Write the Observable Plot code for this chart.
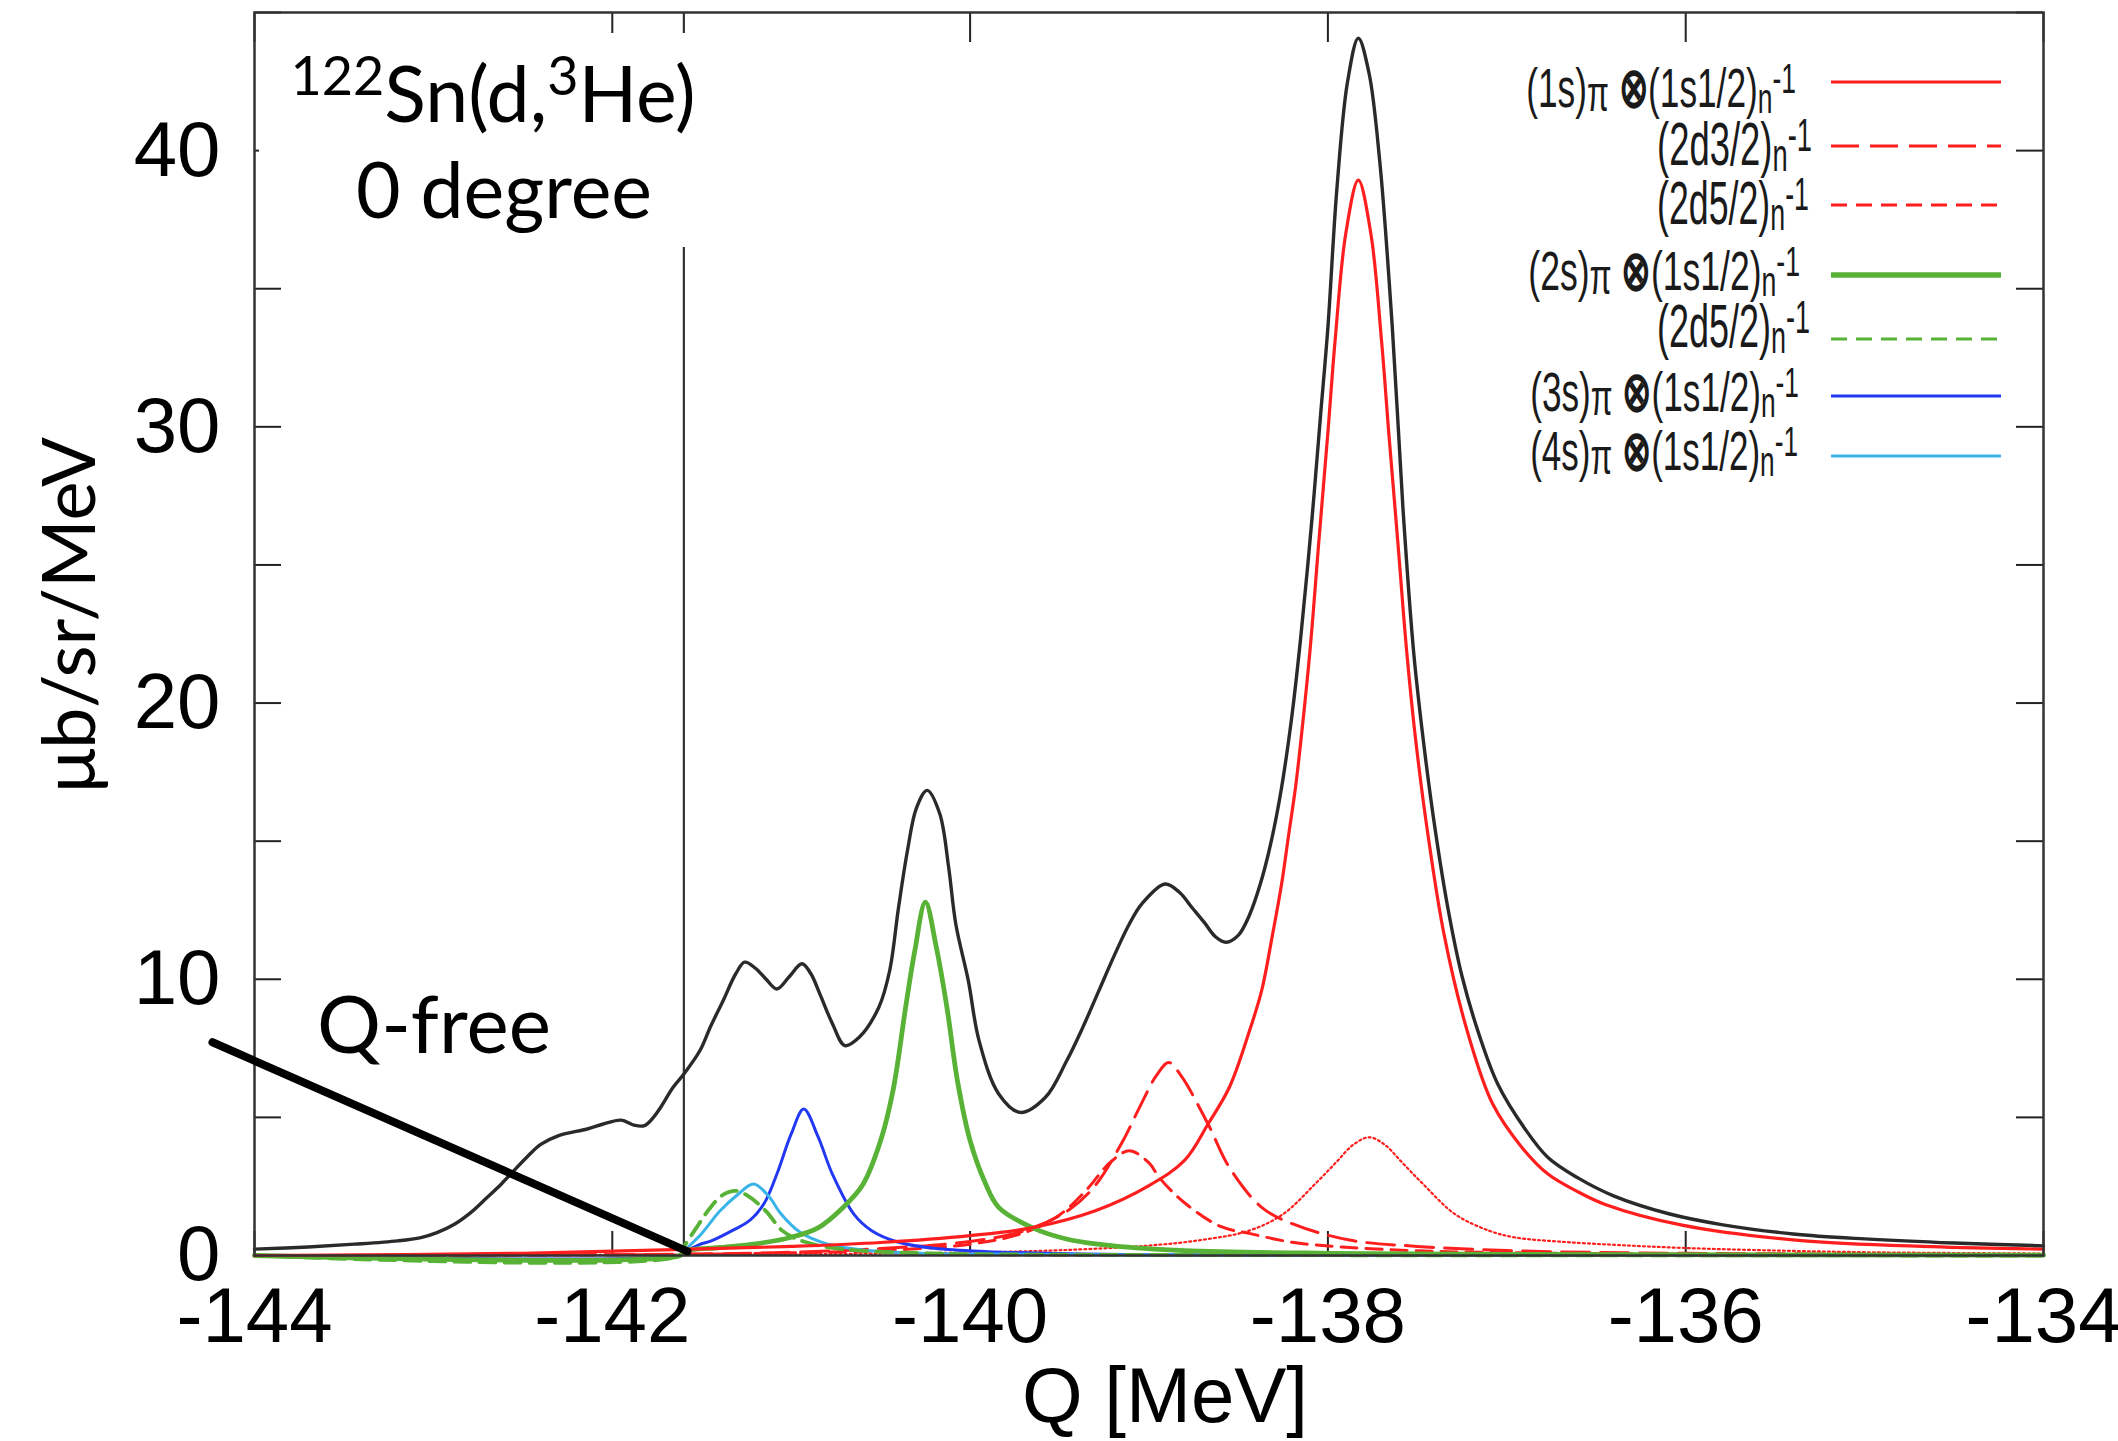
<!DOCTYPE html>
<html><head><meta charset="utf-8">
<script src="https://cdn.jsdelivr.net/npm/d3@7"></script>
<script src="https://cdn.jsdelivr.net/npm/@observablehq/plot@0.6"></script>
<style>body{margin:0;background:#fff;} svg{display:block;}</style>
</head><body><div id="chart"></div>
<script>
// ---------- data ----------
const xTicks = [-144, -142, -140, -138, -136, -134];
const yTicks = [0, 10, 20, 30, 40];
const yMinorTicks = [0, 5, 10, 15, 20, 25, 30, 35, 40, 45];

// total spectrum (black)
const total = [[-144.00,0.23],[-143.70,0.31],[-143.44,0.41],[-143.20,0.53],[-143.07,0.65],[-142.98,0.83],[-142.88,1.14],[-142.79,1.56],[-142.70,2.10],[-142.62,2.59],[-142.55,3.07],[-142.47,3.61],[-142.40,4.02],[-142.30,4.34],[-142.14,4.58],[-142.05,4.76],[-141.95,4.90],[-141.88,4.72],[-141.82,4.70],[-141.77,5.00],[-141.73,5.36],[-141.66,6.09],[-141.60,6.57],[-141.51,7.42],[-141.45,8.30],[-141.38,9.23],[-141.31,10.20],[-141.26,10.62],[-141.20,10.40],[-141.14,10.00],[-141.08,9.65],[-141.01,10.10],[-140.94,10.56],[-140.89,10.20],[-140.84,9.47],[-140.77,8.40],[-140.70,7.60],[-140.62,7.90],[-140.51,8.99],[-140.45,10.30],[-140.40,12.60],[-140.35,14.66],[-140.30,16.20],[-140.24,16.84],[-140.17,16.00],[-140.12,14.06],[-140.08,12.00],[-140.01,9.95],[-139.95,7.78],[-139.84,5.85],[-139.72,5.18],[-139.58,5.72],[-139.46,7.05],[-139.37,8.26],[-139.28,9.59],[-139.19,10.92],[-139.11,12.00],[-139.04,12.73],[-138.91,13.45],[-138.83,13.15],[-138.76,12.60],[-138.69,12.05],[-138.63,11.55],[-138.57,11.34],[-138.50,11.60],[-138.44,12.30],[-138.38,13.40],[-138.32,14.90],[-138.26,16.90],[-138.20,19.60],[-138.15,22.50],[-138.09,26.60],[-138.04,30.50],[-138.00,33.60],[-137.95,38.60],[-137.89,42.50],[-137.83,44.07],[-137.77,42.80],[-137.71,39.60],[-137.64,33.60],[-137.58,27.00],[-137.52,21.80],[-137.46,18.30],[-137.40,15.40],[-137.33,12.60],[-137.25,10.10],[-137.15,7.90],[-137.05,6.20],[-136.90,4.60],[-136.77,3.55],[-136.60,2.80],[-136.40,2.15],[-136.10,1.52],[-135.80,1.12],[-135.40,0.78],[-135.00,0.60],[-134.50,0.45],[-134.00,0.35]];

// (1s)pi x (1s1/2)n^-1  red solid
const pi1s_1s = [[-144,0],[-142.5,0.08],[-141.6,0.22],[-141.0,0.33],[-140.5,0.47],[-140.0,0.72],[-139.65,1.01],[-139.3,1.62],[-139.0,2.53],[-138.8,3.45],[-138.67,4.76],[-138.55,6.1],[-138.44,8.1],[-138.37,9.6],[-138.31,11.6],[-138.26,13.4],[-138.22,15.2],[-138.18,17.0],[-138.15,18.7],[-138.10,21.9],[-138.05,25.9],[-138.00,29.8],[-137.96,33.1],[-137.90,37.0],[-137.83,38.93],[-137.76,37.0],[-137.70,33.1],[-137.66,29.8],[-137.61,25.9],[-137.56,21.9],[-137.51,18.7],[-137.44,15.2],[-137.35,11.6],[-137.22,8.1],[-137.08,5.5],[-136.92,3.95],[-136.77,2.95],[-136.60,2.3],[-136.45,1.85],[-136.02,1.1],[-135.37,0.55],[-134.63,0.32],[-134,0.23]];
// (2d3/2)n^-1 red long dash
const pi1s_2d3 = [[-144,0],[-141.6,0.05],[-141.0,0.12],[-140.5,0.25],[-140.0,0.51],[-139.7,0.89],[-139.45,1.64],[-139.3,2.54],[-139.15,4.1],[-139.05,5.4],[-138.96,6.5],[-138.89,6.99],[-138.82,6.5],[-138.67,4.76],[-138.55,3.18],[-138.37,1.74],[-138.2,1.15],[-137.88,0.56],[-137.5,0.33],[-137.0,0.18],[-136.5,0.11],[-136,0.08],[-135,0.05],[-134,0.03]];
// (2d5/2)n^-1 red short dash
const pi1s_2d5 = [[-144,0],[-141.6,0.04],[-141.0,0.1],[-140.5,0.18],[-140.0,0.41],[-139.7,0.82],[-139.5,1.47],[-139.35,2.37],[-139.22,3.35],[-139.11,3.79],[-139.0,3.35],[-138.94,2.8],[-138.8,1.9],[-138.6,1.05],[-138.44,0.8],[-138.2,0.48],[-137.9,0.3],[-137.5,0.17],[-137,0.1],[-136,0.05],[-134,0.02]];
// unlabelled red dotted component
const pi1s_dot = [[-144,0],[-141.6,0.03],[-140.5,0.07],[-140.0,0.11],[-139.5,0.19],[-139.0,0.36],[-138.7,0.57],[-138.44,0.9],[-138.25,1.5],[-138.07,2.6],[-137.95,3.4],[-137.86,4.0],[-137.77,4.28],[-137.68,4.0],[-137.59,3.4],[-137.47,2.6],[-137.29,1.5],[-137.10,0.9],[-136.95,0.65],[-136.7,0.5],[-136.38,0.38],[-136.0,0.27],[-135.5,0.18],[-135,0.12],[-134.5,0.09],[-134,0.07]];
// (2s)pi x (1s1/2)n^-1 green solid
const pi2s_1s = [[-144,0],[-141.62,0],[-141.6,0.15],[-141.4,0.29],[-141.2,0.42],[-141.0,0.66],[-140.85,1.0],[-140.71,1.74],[-140.6,2.56],[-140.5,4.16],[-140.43,6.0],[-140.36,9.0],[-140.31,11.0],[-140.25,12.79],[-140.19,11.2],[-140.13,9.0],[-140.07,6.3],[-140.0,4.16],[-139.92,2.7],[-139.84,1.74],[-139.65,1.0],[-139.45,0.58],[-139.2,0.35],[-138.8,0.18],[-138.0,0.08],[-137,0.04],[-134,0.01]];
// (2d5/2)n^-1 green dashed
const pi2s_2d5 = [[-144,0],[-141.62,0],[-141.6,0.3],[-141.52,1.1],[-141.45,1.75],[-141.38,2.2],[-141.31,2.34],[-141.24,2.15],[-141.14,1.6],[-141.05,0.9],[-140.95,0.55],[-140.8,0.3],[-140.6,0.17],[-140.3,0.09],[-140,0.05],[-139,0.02],[-134,0]];
// (3s)pi x (1s1/2)n^-1 blue
const pi3s_1s = [[-144,0],[-141.62,0],[-141.6,0.1],[-141.51,0.4],[-141.45,0.52],[-141.33,0.9],[-141.23,1.28],[-141.15,1.9],[-141.08,2.95],[-141.0,4.4],[-140.93,5.3],[-140.85,4.3],[-140.77,2.95],[-140.65,1.5],[-140.55,0.9],[-140.4,0.48],[-140.2,0.26],[-139.9,0.14],[-139.5,0.07],[-139,0.03],[-134,0]];
// (4s)pi x (1s1/2)n^-1 cyan
const pi4s_1s = [[-144,0],[-141.62,0],[-141.6,0.15],[-141.5,0.8],[-141.4,1.6],[-141.3,2.2],[-141.21,2.59],[-141.12,2.1],[-141.06,1.53],[-140.95,0.84],[-140.8,0.42],[-140.6,0.2],[-140.3,0.09],[-140,0.05],[-139,0.02],[-134,0]];

// annotations
const qFree = [-141.6];
const qFreePointer = [[-144.235, 7.72], [-141.58, 0.15]];
const qFreeLabel = [{x: -143.65, y: 7.34, text: "Q-free"}];

// legend
const legendPi = ["1s", "", "", "2s", "", "3s", "4s"];
const legendHole = ["1/2", "3/2", "5/2", "1/2", "5/2", "1/2", "1/2"];
const legendHoleShell = ["1s", "2d", "2d", "1s", "2d", "1s", "1s"];

// ---------- style ----------
const RED = "#ff1e1e", GREEN = "#57b236", BLUE = "#2238f2", CYAN = "#3ab4e8", BLACK = "#2a2a2a";
const SANS = "'Liberation Sans', Arial, sans-serif";
const NARROW = "'Liberation Sans Narrow', 'Liberation Sans', Arial, sans-serif";
const HUMAN = "Lato, 'Open Sans', sans-serif";

const W = 2118, H = 1441;
const M = {top: 12, right: 75, bottom: 186, left: 254};
const plotW = W - M.left - M.right, plotH = H - M.top - M.bottom;

const xy = {x: d => d[0], y: d => d[1], curve: "catmull-rom"};

const chart = Plot.plot({
  width: W, height: H,
  marginTop: M.top, marginRight: M.right, marginBottom: M.bottom, marginLeft: M.left,
  x: {domain: [-144, -134]},
  y: {domain: [0, 45]},
  style: {background: "white", color: "#222", fontFamily: SANS},
  marks: [
    Plot.ruleX(xTicks, {x: d => d, insetTop: plotH - 24, stroke: "#222", strokeWidth: 2}),
    Plot.ruleX(xTicks, {x: d => d, insetBottom: plotH - 30, stroke: "#222", strokeWidth: 2}),
    Plot.ruleY(yMinorTicks, {y: d => d, insetRight: plotW - 27, stroke: "#222", strokeWidth: 2}),
    Plot.ruleY(yMinorTicks, {y: d => d, insetLeft: plotW - 27, stroke: "#222", strokeWidth: 2}),
    Plot.axisX(xTicks, {tickSize: 0, tickPadding: 31, tickFormat: d => String(d), fontSize: 78, fontFamily: SANS, fill: "#000", label: null}),
    Plot.axisY(yTicks, {tickSize: 0, tickPadding: 34, tickFormat: d => String(d), fontSize: 78, fontFamily: SANS, fill: "#000", label: null}),
    Plot.ruleX(qFree, {x: d => d, stroke: "#333", strokeWidth: 2.2}),
    Plot.line(pi1s_dot, {...xy, stroke: RED, strokeWidth: 2.2, strokeDasharray: "2,3"}),
    Plot.line(pi1s_2d5, {...xy, stroke: RED, strokeWidth: 3, strokeDasharray: "16,9"}),
    Plot.line(pi1s_2d3, {...xy, stroke: RED, strokeWidth: 3, strokeDasharray: "28,11"}),
    Plot.line(pi3s_1s, {...xy, stroke: BLUE, strokeWidth: 3}),
    Plot.line(pi4s_1s, {...xy, stroke: CYAN, strokeWidth: 3}),
    Plot.line(pi2s_2d5, {...xy, stroke: GREEN, strokeWidth: 3.8, strokeDasharray: "16,9"}),
    Plot.line(pi2s_1s, {...xy, stroke: GREEN, strokeWidth: 4.8}),
    Plot.line(pi1s_1s, {...xy, stroke: RED, strokeWidth: 3.2}),
    Plot.line(total, {...xy, stroke: BLACK, strokeWidth: 3.4}),
    Plot.frame({stroke: "#333", strokeWidth: 2.5}),
    Plot.line(qFreePointer, {x: d => d[0], y: d => d[1], stroke: "#000", strokeWidth: 8}),
    Plot.text(qFreeLabel, {x: "x", y: "y", text: "text", textAnchor: "start", lineAnchor: "bottom", fontSize: 80, fontFamily: HUMAN, fill: "#000"})
  ]
});
document.getElementById("chart").appendChild(chart);

// ---------- text annotations drawn into the same SVG ----------
const svg = d3.select(chart);

svg.append("rect").attr("x", 259).attr("y", 33).attr("width", 456).attr("height", 214).attr("fill", "#fff");

function rich(sel, parts, size) {
  let cur = 0;
  for (const p of parts) {
    const shift = p.shift || 0;
    const ts = sel.append("tspan").attr("dy", shift - cur).attr("font-size", ((p.size || 1) * size));
    if (p.bold) ts.attr("font-weight", "bold");
    ts.text(p.t);
    cur = shift;
  }
}

const t1 = svg.append("text").attr("x", 493).attr("y", 122).attr("text-anchor", "middle")
  .attr("font-family", HUMAN).attr("fill", "#000");
rich(t1, [{t: "122", shift: -27, size: 0.7}, {t: "Sn(d,"}, {t: "3", shift: -27, size: 0.7}, {t: "He)"}], 77);
svg.append("text").attr("x", 504).attr("y", 218).attr("text-anchor", "middle")
  .attr("font-family", HUMAN).attr("font-size", 77).attr("fill", "#000").text("0 degree");

svg.append("text").attr("transform", "translate(95,615) rotate(-90)").attr("text-anchor", "middle")
  .attr("font-family", HUMAN).attr("font-size", 74).attr("fill", "#000").text("μb/sr/MeV");
svg.append("text").attr("x", 1165).attr("y", 1422).attr("text-anchor", "middle")
  .attr("font-family", SANS).attr("font-size", 78).attr("fill", "#000").text("Q [MeV]");

// legend
const legendStyle = [
  {color: RED, width: 3, dash: null},
  {color: RED, width: 3, dash: "28,11"},
  {color: RED, width: 3, dash: "16,9"},
  {color: GREEN, width: 5.5, dash: null},
  {color: GREEN, width: 3, dash: "16,9"},
  {color: BLUE, width: 2.8, dash: null},
  {color: CYAN, width: 2.8, dash: null}
];
const legendLayout = [
  {lineY: 82, end: 1796, len: 270, base: 107, size: 56},
  {lineY: 146, end: 1812, len: 155, base: 165, size: 62},
  {lineY: 205, end: 1809, len: 152, base: 224, size: 62},
  {lineY: 275, end: 1800, len: 272, base: 290, size: 56},
  {lineY: 339, end: 1810, len: 153, base: 347, size: 62},
  {lineY: 396, end: 1799, len: 269, base: 411, size: 56},
  {lineY: 456, end: 1798, len: 268, base: 470, size: 56}
];
legendLayout.forEach((L, i) => {
  const s = legendStyle[i];
  const ln = svg.append("line").attr("x1", 1831).attr("x2", 2001).attr("y1", L.lineY).attr("y2", L.lineY)
    .attr("stroke", s.color).attr("stroke-width", s.width);
  if (s.dash) ln.attr("stroke-dasharray", s.dash);
  const g = svg.append("g");
  const tx = g.append("text").attr("x", 0).attr("y", 0).attr("text-anchor", "end")
    .attr("font-family", NARROW).attr("fill", "#1a1a1a");
  const parts = [];
  if (legendPi[i]) {
    parts.push({t: "(" + legendPi[i] + ")"}, {t: "π", shift: 4, size: 0.9}, {t: " ⊗", bold: true});
  }
  parts.push({t: "(" + legendHoleShell[i]}, {t: legendHole[i]}, {t: ")"},
             {t: "n", shift: 6, size: 0.75}, {t: "-1", shift: -14, size: 0.75});
  rich(tx, parts, L.size);
  let natural = L.len;
  try { natural = tx.node().getComputedTextLength() || L.len; } catch (e) {}
  const sx = Math.min(1.2, L.len / natural);
  g.attr("transform", `translate(${L.end},${L.base}) scale(${sx},1)`);
});
</script></body></html>
